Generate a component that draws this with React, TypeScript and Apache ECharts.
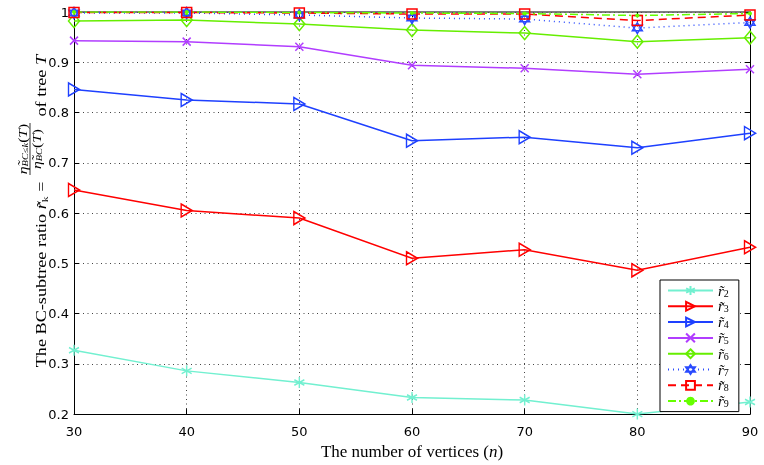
import React, { useEffect, useRef } from "react";
import * as echarts from "echarts";

// ---- data ----
const vertices = [30, 40, 50, 60, 70, 80, 90];
const r2 = [0.327, 0.286, 0.263, 0.233, 0.228, 0.2, 0.224];
const r3 = [0.646, 0.605, 0.59, 0.51, 0.527, 0.486, 0.532];
const r4 = [0.846, 0.825, 0.817, 0.744, 0.751, 0.73, 0.759];
const r5 = [0.943, 0.941, 0.931, 0.894, 0.888, 0.876, 0.886];
const r6 = [0.982, 0.984, 0.976, 0.964, 0.958, 0.941, 0.949];
const r7 = [0.998, 0.998, 0.994, 0.988, 0.986, 0.968, 0.979];
const r8 = [0.999, 0.999, 0.998, 0.996, 0.996, 0.983, 0.994];
const r9 = [1.0, 1.0, 0.999, 0.998, 0.997, 0.993, 0.997];
const seriesNames = ["r2", "r3", "r4", "r5", "r6", "r7", "r8", "r9"];
const seriesData = [r2, r3, r4, r5, r6, r7, r8, r9];

const SERIF = "'Liberation Serif', 'Times New Roman', serif";
const SANS = "'DejaVu Sans', sans-serif";

const ASTER = "path://M0,-5L0,5M-4.33,-2.5L4.33,2.5M-4.33,2.5L4.33,-2.5";
const CROSS = "path://M-4,-4L4,4M-4,4L4,-4";
const TRI_R = "path://M-4,-5L5,0L-4,5Z";
const DIAM = "path://M0,-6L5,0L0,6L-5,0Z";
const HEXA = "path://M0,-6L5.196,3L-5.196,3ZM0,6L5.196,-3L-5.196,-3Z";
const SQUARE = "path://M-5,-5L5,-5L5,5L-5,5Z";

const styles = [
  { color: "#72F0D0", symbol: ASTER, size: [10, 11], type: "solid" },
  { color: "#FF0000", symbol: TRI_R, size: [11, 13], type: "solid" },
  { color: "#1E40FF", symbol: TRI_R, size: [11, 13], type: "solid" },
  { color: "#B13DFF", symbol: CROSS, size: [8, 8], type: "solid" },
  { color: "#66EE00", symbol: DIAM, size: [11, 13], type: "solid" },
  { color: "#2A4BFF", symbol: HEXA, size: [10, 11], type: [1, 4] },
  { color: "#FF0000", symbol: SQUARE, size: [10, 10], type: [8, 5] },
  { color: "#66FF00", symbol: "circle", size: 4, type: [8, 3, 2, 3] },
];

export default function App() {
  const ref = useRef<HTMLDivElement>(null);
  useEffect(() => {
    if (!ref.current) return;
    const chart = echarts.init(ref.current, undefined, { renderer: "svg" });
    const series = seriesNames.map((name, k) => {
      const s = styles[k];
      const isDot = s.symbol === "circle";
      return {
        name,
        type: "line",
        data: vertices.map((v, i) => [v, seriesData[k][i]]),
        symbol: s.symbol,
        symbolSize: s.size,
        lineStyle: { color: s.color, width: 1.5, type: s.type },
        itemStyle: isDot
          ? { color: s.color, borderWidth: 0 }
          : { color: "rgba(0,0,0,0)", borderColor: s.color, borderWidth: 1.5 },
        emphasis: { disabled: true },
      };
    });
    const tickFont = { fontFamily: SANS, fontSize: 13, color: "#000" };
    const sub = {
      fontFamily: SERIF,
      fontSize: 9,
      fill: "#000",
      color: "#000",
      lineHeight: 16,
      padding: [6, 0, 0, 0],
    };
    const it = { fontFamily: SERIF, fontSize: 14, fontStyle: "italic", fill: "#000", color: "#000", lineHeight: 16 };
    const rm = { fontFamily: SERIF, fontSize: 14, fill: "#000", color: "#000", lineHeight: 16 };
    const fracIt = { fontFamily: SERIF, fontSize: 12, fontStyle: "italic", fill: "#000", lineHeight: 14 };
    const fracRm = { fontFamily: SERIF, fontSize: 12, fill: "#000", lineHeight: 14 };
    const fracSub = { fontFamily: SERIF, fontSize: 8, fontStyle: "italic", fill: "#000", lineHeight: 14, padding: [5, 0, 0, 0] };

    chart.setOption({
      animation: false,
      grid: { left: 74, right: 14, top: 12, bottom: 48, containLabel: false },
      xAxis: [
        {
          type: "value",
          min: 30,
          max: 90,
          interval: 10,
          position: "bottom",
          axisLine: { lineStyle: { color: "#000", width: 1 } },
          axisTick: { inside: true, length: 5, lineStyle: { color: "#000" } },
          axisLabel: { ...tickFont, margin: 11 },
          splitLine: { show: true, lineStyle: { color: "#444", width: 1, type: [1, 3.5] } },
          name: "The number of vertices ({n|n})",
          nameLocation: "middle",
          nameGap: 25,
          nameTextStyle: {
            fontFamily: SERIF,
            fontSize: 17,
            color: "#000",
            rich: { n: { fontFamily: SERIF, fontSize: 17, fontStyle: "italic", color: "#000" } },
          },
        },
        {
          type: "value",
          min: 30,
          max: 90,
          interval: 10,
          position: "top",
          axisLine: { lineStyle: { color: "#555", width: 1.5 } },
          axisTick: { inside: true, length: 5, lineStyle: { color: "#000" } },
          axisLabel: { show: false },
          splitLine: { show: false },
        },
      ],
      yAxis: [
        {
          type: "value",
          min: 0.2,
          max: 1,
          interval: 0.1,
          position: "left",
          axisLine: { show: true, lineStyle: { color: "#000", width: 1 } },
          axisTick: { show: true, inside: true, length: 5, lineStyle: { color: "#000" } },
          axisLabel: {
            ...tickFont,
            margin: 5,
            formatter: (v: number) => (Math.abs(v - 1) < 1e-9 ? "1" : v.toFixed(1)),
          },
          splitLine: { show: true, lineStyle: { color: "#444", width: 1, type: [1, 3.5] } },
        },
        {
          type: "value",
          min: 0.2,
          max: 1,
          interval: 0.1,
          position: "right",
          axisLine: { show: true, lineStyle: { color: "#000", width: 1 } },
          axisTick: { show: true, inside: true, length: 5, lineStyle: { color: "#000" } },
          axisLabel: { show: false },
          splitLine: { show: false },
        },
      ],
      legend: {
        data: seriesNames,
        orient: "vertical",
        left: 660,
        top: 280,
        padding: [3, 10, 3, 7],
        itemGap: 0.8,
        itemWidth: 45,
        itemHeight: 11,
        backgroundColor: "#fff",
        borderColor: "#000",
        borderWidth: 1,
        borderRadius: 0,
        selectedMode: false,
        formatter: (name: string) => `{i|r\u0303}{s|${name.slice(1)}}`,
        textStyle: {
          color: "#000",
          fontFamily: SERIF,
          fontSize: 14,
          lineHeight: 12,
          rich: {
            i: { fontFamily: SERIF, fontSize: 15, fontStyle: "italic", color: "#000", lineHeight: 12 },
            s: { fontFamily: SERIF, fontSize: 10, color: "#000", lineHeight: 7, padding: [5, 0, 0, 0] },
          },
        },
      },
      graphic: [
        {
          type: "group",
          x: 42,
          y: 149,
          rotation: Math.PI / 2,
          scaleX: 1.3,
          silent: true,
          children: [
            {
              type: "text",
              x: -25,
              y: 0,
              style: {
                text: "The BC-subtree ratio {i|r\u0303}{s|k} =",
                fontFamily: SERIF,
                fontSize: 14,
                fill: "#000",
                align: "right",
                verticalAlign: "middle",
                rich: { i: it, s: sub, r: rm },
              },
            },
            {
              type: "text",
              x: 0,
              y: -19,
              style: {
                text: "{e|\u03b7\u0303}{s|BC\u2264k}{r|(}{e|T}{r|)}",
                align: "center",
                verticalAlign: "middle",
                fill: "#000",
                rich: { e: fracIt, s: fracSub, r: fracRm },
              },
            },
            {
              type: "line",
              shape: { x1: -20, y1: -12, x2: 20, y2: -12 },
              style: { stroke: "#000", lineWidth: 0.8 },
            },
            {
              type: "text",
              x: 0,
              y: -5,
              style: {
                text: "{e|\u03b7\u0303}{s|BC}{r|(}{e|T}{r|)}",
                align: "center",
                verticalAlign: "middle",
                fill: "#000",
                rich: { e: fracIt, s: fracSub, r: fracRm },
              },
            },
            {
              type: "text",
              x: 25,
              y: 0,
              style: {
                text: "of tree {i|T}",
                fontFamily: SERIF,
                fontSize: 14,
                fill: "#000",
                align: "left",
                verticalAlign: "middle",
                rich: { i: it },
              },
            },
          ],
        },
      ],
      series,
    });
    return () => chart.dispose();
  }, []);
  return <div ref={ref} style={{ position: "fixed", left: 0, top: 0, width: 764, height: 465 }} />;
}
